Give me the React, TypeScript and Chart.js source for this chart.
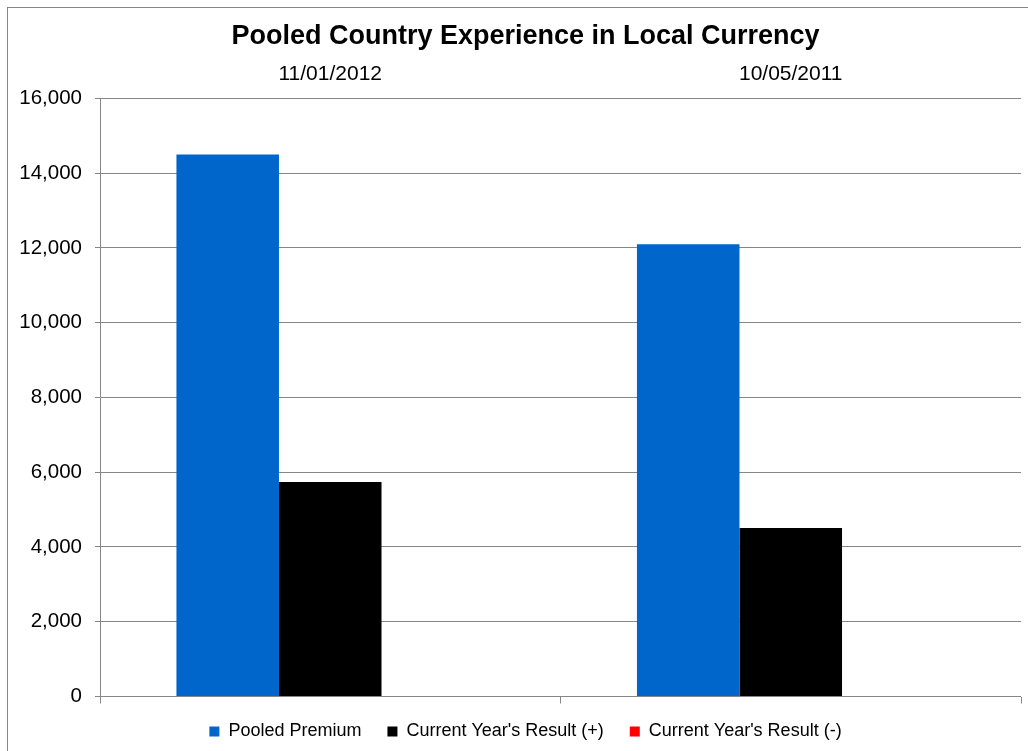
import { useEffect, useRef } from "react";
import { Chart, registerables } from "chart.js";

Chart.register(...registerables);

const categories = ["11/01/2012", "10/05/2011"];
const seriesNames = ["Pooled Premium", "Current Year's Result (+)", "Current Year's Result (-)"];
const pooledPremium = [14500, 12100];
const resultPositive = [5740, 4510];
const resultNegative = [0, 0];
const yMin = 0;
const yMax = 16000;
const yStep = 2000;
const titleText = "Pooled Country Experience in Local Currency";

const FONT = "'Liberation Sans', Arial, sans-serif";
const GRID = "#868686";

export default function App() {
  const ref = useRef<HTMLCanvasElement | null>(null);

  useEffect(() => {
    if (!ref.current) return;
    const chart = new Chart(ref.current, {
      type: "bar",
      data: {
        labels: categories,
        datasets: [
          { label: seriesNames[0], data: pooledPremium, backgroundColor: "#0066CC", borderWidth: 0, xAxisID: "x", categoryPercentage: 0.668, barPercentage: 1 },
          { label: seriesNames[1], data: resultPositive, backgroundColor: "#000000", borderWidth: 0, xAxisID: "x", categoryPercentage: 0.668, barPercentage: 1 },
          { label: seriesNames[2], data: resultNegative, backgroundColor: "#FF0000", borderWidth: 0, xAxisID: "x", categoryPercentage: 0.668, barPercentage: 1 },
        ],
      },
      options: {
        animation: false,
        responsive: false,
        layout: { padding: { left: 10, right: -5, top: 0, bottom: 0.5 } },
        plugins: {
          title: {
            display: true,
            text: titleText,
            color: "#000",
            font: { family: FONT, size: 27, weight: "bold" },
            padding: { top: 12, bottom: 0 },
          },
          legend: {
            position: "bottom",
            labels: {
              boxWidth: 10,
              boxHeight: 10,
              padding: 26,
              color: "#000",
              font: { family: FONT, size: 18 },
            },
          },
          tooltip: { enabled: false },
        },
        scales: {
          x: {
            type: "category",
            position: "top",
            grid: { display: false, drawTicks: false },
            border: { display: false },
            ticks: { color: "#000", font: { family: FONT, size: 21 }, padding: 12, maxRotation: 0 },
            afterFit: (s: any) => { s.height = 46; },
          },
          xb: {
            type: "category",
            position: "bottom",
            offset: true,
            grid: { offset: true, drawOnChartArea: false, drawTicks: true, tickLength: 7, color: GRID },
            border: { display: false },
            ticks: { display: false },
            afterFit: (s: any) => { s.height = 0; },
          },
          y: {
            min: yMin,
            max: yMax,
            ticks: {
              stepSize: yStep,
              color: "#000",
              font: { family: FONT, size: 20.5 },
              padding: 13,
              callback: (v: any) => Number(v).toLocaleString("en-US"),
            },
            grid: { color: GRID, tickLength: 5 },
            border: { color: GRID },
            afterFit: (s: any) => { s.width = 82; },
          },
          yr: {
            type: "linear",
            position: "right",
            grid: { display: false, drawTicks: false },
            border: { display: false },
            ticks: { display: false },
            afterFit: (s: any) => { s.width = 12; },
          },
        },
      } as any,
    });
    return () => chart.destroy();
  }, []);

  return (
    <div
      style={{
        position: "absolute",
        left: 7,
        top: 7,
        width: 1020,
        height: 743,
        borderLeft: `1px solid ${GRID}`,
        borderTop: `1px solid ${GRID}`,
        background: "#fff",
      }}
    >
      <canvas ref={ref} width={1020} height={743} style={{ display: "block" }} />
    </div>
  );
}
